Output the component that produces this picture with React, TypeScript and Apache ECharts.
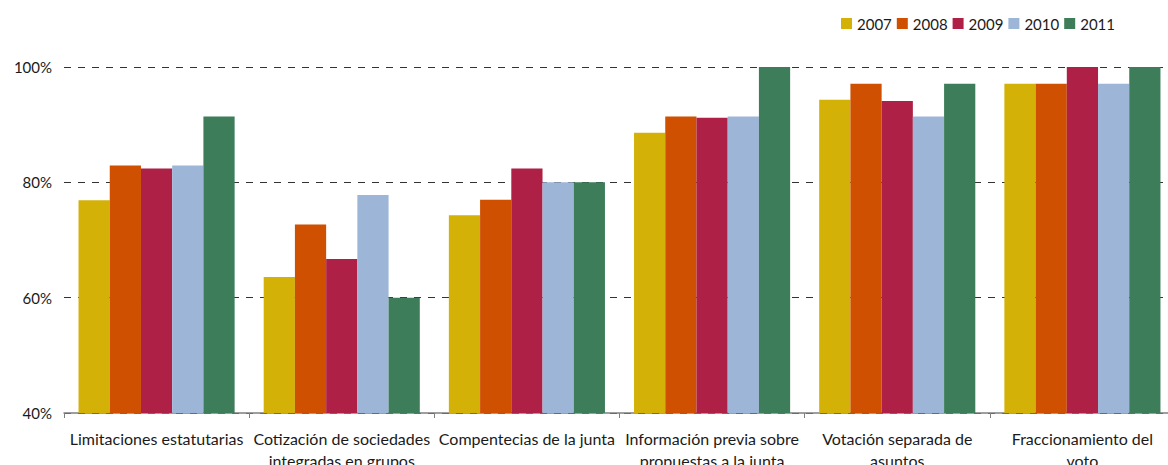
import React, { useEffect, useRef } from "react";
import * as echarts from "echarts";

const categories = [
  "Limitaciones estatutarias",
  "Cotización de sociedades\nintegradas en grupos",
  "Compentecias de la junta",
  "Información previa sobre\npropuestas a la junta",
  "Votación separada de\nasuntos",
  "Fraccionamiento del\nvoto",
];
const years = ["2007", "2008", "2009", "2010", "2011"];
const v2007 = [76.9, 63.6, 74.3, 88.6, 94.3, 97.1];
const v2008 = [82.9, 72.7, 77.0, 91.4, 97.1, 97.1];
const v2009 = [82.4, 66.7, 82.4, 91.2, 94.1, 100];
const v2010 = [82.9, 77.8, 80.0, 91.4, 91.4, 97.1];
const v2011 = [91.4, 60.0, 80.0, 100, 97.1, 100];
const yTicks = [40, 60, 80, 100];
const colors = ["#D3B106", "#CE5000", "#AE2045", "#9DB5D7", "#3D7D5A"];

const FONT = "Lato";

export default function App() {
  const ref = useRef<HTMLDivElement>(null);
  useEffect(() => {
    if (!ref.current) return;
    const chart = echarts.init(ref.current, undefined, { renderer: "svg" });
    const seriesData = [v2007, v2008, v2009, v2010, v2011];
    chart.setOption({
      animation: false,
      color: colors,
      textStyle: { fontFamily: FONT },
      legend: {
        left: 836,
        top: 11,
        itemWidth: 11,
        itemHeight: 11,
        itemGap: 5,
        icon: "rect",
        data: years,
        textStyle: { fontSize: 15, color: "#1a1a1a", fontFamily: FONT },
      },
      grid: {
        left: 64,
        top: 67,
        width: 1111,
        height: 346,
        containLabel: false,
        outerBoundsMode: "none",
      },
      xAxis: {
        type: "category",
        data: categories,
        axisLine: { lineStyle: { color: "#7f7f7f", width: 1.5 } },
        axisTick: { show: true, length: 5, lineStyle: { color: "#7f7f7f" } },
        axisLabel: {
          interval: 0,
          margin: 14,
          fontSize: 16,
          lineHeight: 22,
          color: "#1a1a1a",
          fontFamily: FONT,
        },
      },
      yAxis: {
        type: "value",
        min: yTicks[0],
        max: yTicks[yTicks.length - 1],
        interval: 20,
        axisLine: { show: false },
        axisTick: { show: false },
        axisLabel: {
          formatter: (v: number) => v + "%",
          fontSize: 15,
          color: "#1a1a1a",
          margin: 12,
          fontFamily: FONT,
        },
        splitLine: {
          show: true,
          lineStyle: { color: "#333", type: [7, 7], width: 1 },
        },
      },
      series: years.map((y, i) => ({
        name: y,
        type: "bar",
        data: seriesData[i],
        barGap: "0%",
        barCategoryGap: "15.7%",
        itemStyle: { color: colors[i] },
      })),
    });
    return () => chart.dispose();
  }, []);
  return (
    <div
      ref={ref}
      style={{ position: "fixed", left: 0, top: 0, width: 1168, height: 465, background: "#fff" }}
    />
  );
}
